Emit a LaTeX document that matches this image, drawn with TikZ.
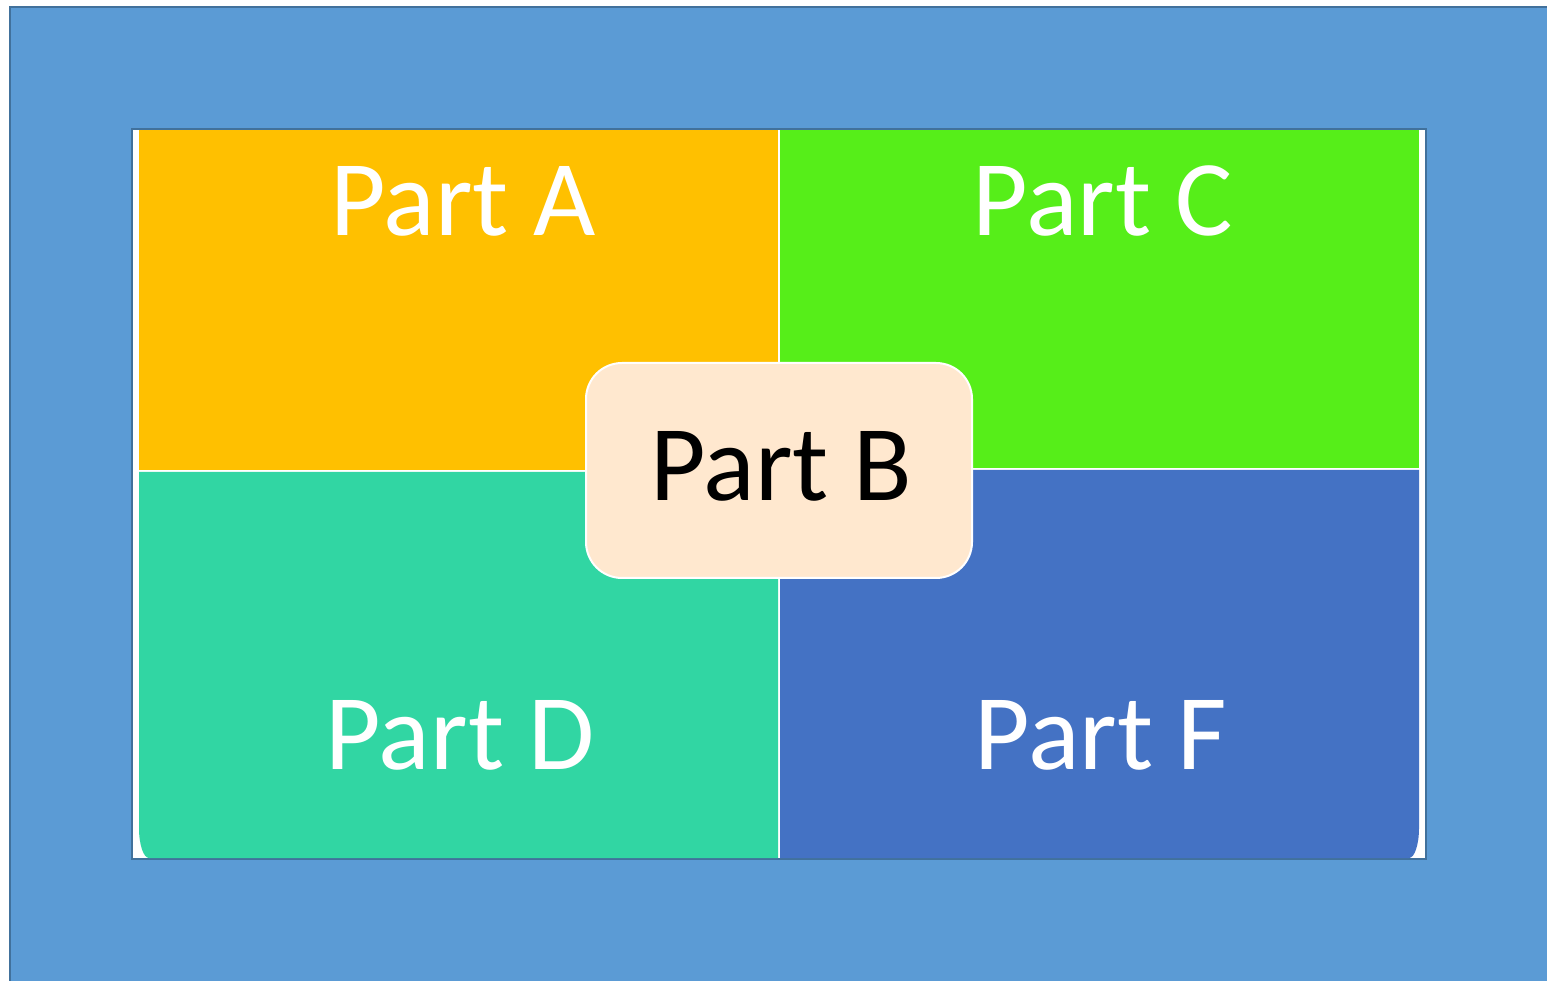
\documentclass[tikz,border=0pt]{standalone}
\usepackage{fontspec}
\setmainfont{Carlito}
\definecolor{slide}{HTML}{5B9BD5}
\definecolor{slideedge}{HTML}{41719C}
\definecolor{partA}{HTML}{FFC000}
\definecolor{partC}{HTML}{56EE19}
\definecolor{partD}{HTML}{31D6A3}
\definecolor{partF}{HTML}{4472C4}
\definecolor{partB}{HTML}{FFE8CF}
\tikzset{
  label text/.style={font=\fontsize{108}{120}\selectfont, text=white, anchor=base, inner sep=0pt},
  centre box/.style={draw=white, line width=2bp, fill=partB, rounded corners=36bp},
}
\begin{document}
\begin{tikzpicture}[x=1bp,y=1bp]
\useasboundingbox (0,0) rectangle (1547,980);
% slide background
\fill[white] (0,0) rectangle (1547,980);
\draw[fill=slide, draw=slideedge, line width=2bp] (10,-20) rectangle (1570,973);
% white frame holding the four parts
\draw[fill=white, draw=slideedge, line width=2bp] (132,121) rectangle (1426,851);
% four quadrants
\fill[partA] (139,510) rectangle (778,850);
\fill[partC] (780,512) rectangle (1419,850);
\fill[partD] (778,508) -- (139,508) -- (139,152) arc[start angle=180, end angle=270, x radius=10, y radius=30] -- (778,122) -- cycle;
\fill[partF] (780,510) -- (1419,510) -- (1419,152) arc[start angle=0, end angle=-90, x radius=10, y radius=30] -- (780,122) -- cycle;
% centre piece
\draw[centre box] (586,402) rectangle (972,617);
% labels
\node[label text] (a) at (463,744) {Part A};
\node[label text] (c) at (1103,744) {Part C};
\node[label text] (d) at (460,210) {Part D};
\node[label text] (f) at (1101,210) {Part F};
\node[label text, text=black] (b) at (781,479) {Part B};
\end{tikzpicture}
\end{document}
